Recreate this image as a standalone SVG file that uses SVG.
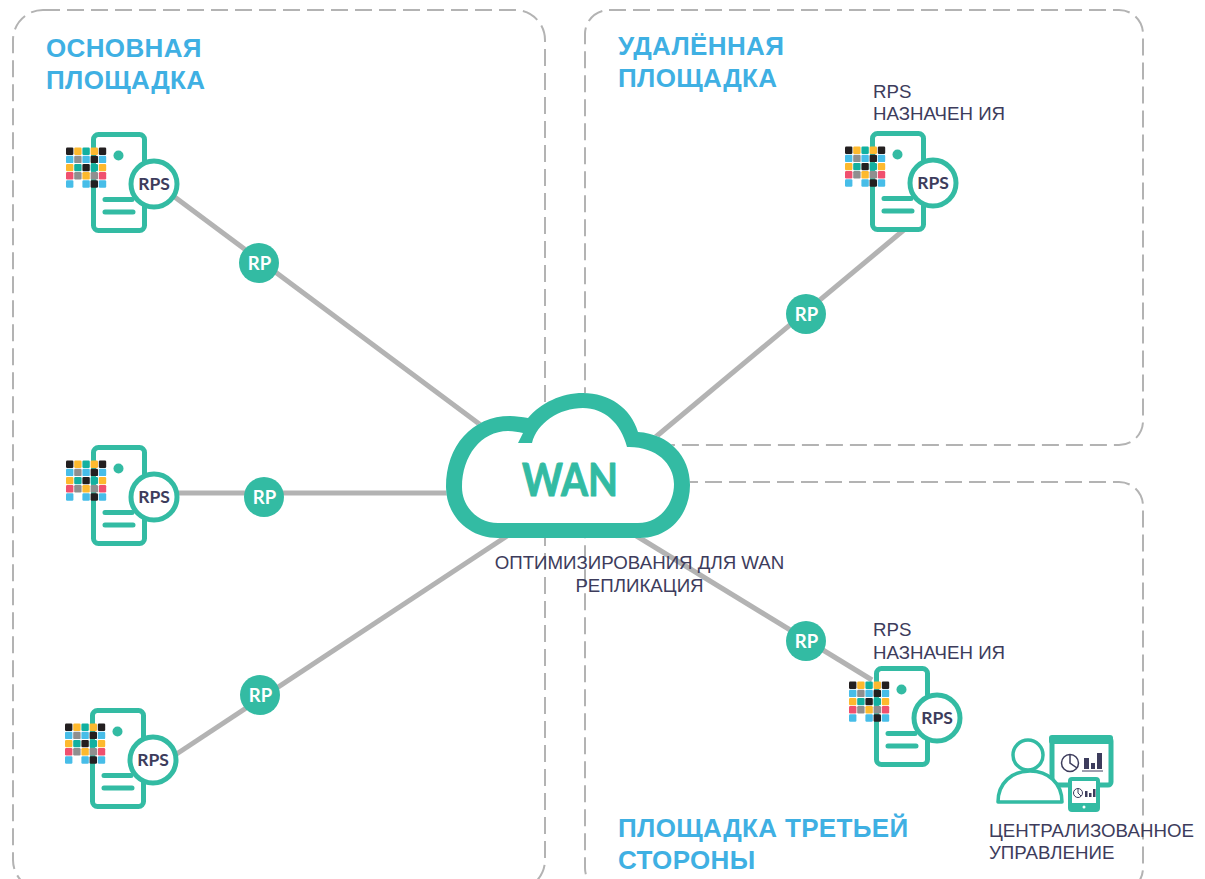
<svg xmlns="http://www.w3.org/2000/svg" xmlns:xlink="http://www.w3.org/1999/xlink" width="1205" height="879" viewBox="0 0 1205 879">
<style>
text{font-family:"Liberation Sans",Arial,sans-serif}
.panel{fill:none;stroke:#b3b3b3;stroke-width:2;stroke-dasharray:17 7}
.link{stroke:#b3b3b3;stroke-width:5;fill:none}
.rp{fill:#33bba3}
.rpt{fill:#fff;font:700 18.500px Lato,"Liberation Sans",sans-serif;text-anchor:middle}
.h{fill:#3fb0e3;font-size:26px;font-weight:700;letter-spacing:.35px}
.t{fill:#3d3c5c;font-size:18.700px}
.tl{fill:none;stroke:#33bba3;stroke-width:5;stroke-linecap:round}
.k{fill:#231f20}.y{fill:#fdb92e}.g{fill:#12b0a0}.b{fill:#47bde8}.a{fill:#8f8f8f}.r{fill:#f0506e}
.rps{fill:#3d3c5c;font:700 17.500px Lato,"Liberation Sans",sans-serif;text-anchor:middle}
.ic{fill:none;stroke:#3d3c5c}
</style>
<defs>
<rect id="c" width="7.400" height="7.400" rx="1.200"/>
<g id="srv">
<rect class="tl" x="93.500" y="134.500" width="51" height="96" rx="5" style="fill:#fff"/>
<circle cx="118.500" cy="155.500" r="5" fill="#33bba3"/>
<path class="tl" d="M105 199.500H132M105 212H133"/>
<g>
<use href="#c" class="k" x="66" y="147.500"/><use href="#c" class="y" x="74.200" y="147.500"/><use href="#c" class="g" x="82.400" y="147.500"/><use href="#c" class="y" x="90.600" y="147.500"/><use href="#c" class="k" x="98.800" y="147.500"/>
<use href="#c" class="b" x="66" y="155.700"/><use href="#c" class="a" x="74.200" y="155.700"/><use href="#c" class="b" x="82.400" y="155.700"/><use href="#c" class="k" x="90.600" y="155.700"/><use href="#c" class="b" x="98.800" y="155.700"/>
<use href="#c" class="y" x="66" y="163.900"/><use href="#c" class="g" x="74.200" y="163.900"/><use href="#c" class="k" x="82.400" y="163.900"/><use href="#c" class="g" x="90.600" y="163.900"/><use href="#c" class="y" x="98.800" y="163.900"/>
<use href="#c" class="r" x="66" y="172.100"/><use href="#c" class="a" x="74.200" y="172.100"/><use href="#c" class="y" x="82.400" y="172.100"/><use href="#c" class="a" x="90.600" y="172.100"/><use href="#c" class="r" x="98.800" y="172.100"/>
<use href="#c" class="b" x="66" y="180.300"/><use href="#c" class="b" x="82.400" y="180.300"/><use href="#c" class="k" x="90.600" y="180.300"/><use href="#c" class="b" x="98.800" y="180.300"/>
</g>
<circle cx="154" cy="184" r="23" fill="#fff" stroke="#33bba3" stroke-width="5"/>
<text class="rps" x="154" y="190">RPS</text>
</g>
</defs>
<rect width="1205" height="879" fill="#fff"/>
<g id="panels">
<rect class="panel" x="13" y="10" width="532" height="880" rx="30"/>
<rect class="panel" x="585" y="10" width="558" height="435" rx="24"/>
<rect class="panel" x="585" y="482" width="558" height="410" rx="24"/>
</g>
<g id="connectors">
<path class="link" d="M172 195L482 426"/>
<path class="link" d="M178 493H450"/>
<path class="link" d="M172 757L510 534"/>
<path class="link" d="M905 229L652 440"/>
<path class="link" d="M630 532L872 680"/>
</g>
<g id="rp1"><circle class="rp" cx="259" cy="263" r="20"/><text class="rpt" x="259.500" y="269.500">RP</text></g>
<g id="rp2"><circle class="rp" cx="264" cy="497" r="20"/><text class="rpt" x="264.500" y="503.500">RP</text></g>
<g id="rp3"><circle class="rp" cx="260" cy="695" r="20"/><text class="rpt" x="260.500" y="701.500">RP</text></g>
<g id="rp4"><circle class="rp" cx="806" cy="314" r="20"/><text class="rpt" x="806.500" y="320.500">RP</text></g>
<g id="rp5"><circle class="rp" cx="806" cy="641" r="20"/><text class="rpt" x="806.500" y="647.500">RP</text></g>
<g id="server1"><use href="#srv"/></g>
<g id="server2"><use href="#srv" y="313"/></g>
<g id="server3"><use href="#srv" x="-1" y="576"/></g>
<g id="server4"><use href="#srv" x="779" y="-1"/></g>
<g id="server5"><use href="#srv" x="783" y="534"/></g>
<g id="wan">
<path fill="#fff" d="M446 487C446 446 472 416 510 416C516 416 522 417 528 418C541 403 561 393 583 393C609 393 631 408 638 432C669 434 690 456 690 485C690 515 669 538 640 538H498C468 538 446 515 446 487Z"/>
<path fill="#33bba3" fill-rule="evenodd" d="M446 487C446 446 472 416 510 416C516 416 522 417 528 418C541 403 561 393 583 393C609 393 631 408 638 432C669 434 690 456 690 485C690 515 669 538 640 538H498C468 538 446 515 446 487ZM462 487C462 507 478 523 498 523H638C659 523 674 505 674 484C674 463 655 446 627 447C621 423 604 408 583 408C559 408 537 423 532 443L518 443L523 433C518 432 514 431 508 431C481 431 462 456 462 487Z"/>
<text x="570" y="496" fill="#33bba3" stroke="#33bba3" stroke-width="1" stroke-linejoin="round" font-size="46" font-weight="700" text-anchor="middle" textLength="96" lengthAdjust="spacingAndGlyphs" style="font-family:Lato,'Liberation Sans',sans-serif">WAN</text>
</g>
<g id="labels">
<text class="h" x="46" y="57">ОСНОВНАЯ</text><text class="h" x="46" y="89">ПЛОЩАДКА</text>
<text class="h" x="618" y="55">УДАЛЁННАЯ</text><text class="h" x="618" y="87">ПЛОЩАДКА</text>
<text class="h" x="618" y="837">ПЛОЩАДКА ТРЕТЬЕЙ</text><text class="h" x="618" y="869">СТОРОНЫ</text>
<text class="t" x="873" y="98">RPS</text><text class="t" x="873" y="120">НАЗНАЧЕН ИЯ</text>
<text class="t" x="873" y="636">RPS</text><text class="t" x="873" y="659">НАЗНАЧЕН ИЯ</text>
<text class="t" x="639.500" y="569" text-anchor="middle">ОПТИМИЗИРОВАНИЯ ДЛЯ WAN</text><text class="t" x="639.500" y="592" text-anchor="middle">РЕПЛИКАЦИЯ</text>
<text class="t" x="989" y="837">ЦЕНТРАЛИЗОВАННОЕ</text><text class="t" x="989" y="859">УПРАВЛЕНИЕ</text>
</g>
<g id="management">
<rect x="1052" y="738" width="59" height="47" rx="3" fill="#fff" stroke="#33bba3" stroke-width="5"/>
<rect x="1049" y="735" width="64" height="9" rx="3" fill="#33bba3"/>
<circle class="ic" cx="1070" cy="763" r="8.500" stroke-width="1.500"/>
<path class="ic" d="M1070 754.500V763L1077 768" stroke-width="1.500"/>
<path fill="#3d3c5c" d="M1084 758h5v11h-5zM1091 763h4v6h-4zM1097 753h5v16h-5z"/>
<path class="ic" d="M1082 771H1103" stroke-width="1"/>
<path d="M998 802C998 783 1012 771 1030 771C1048 771 1062 783 1062 802Z" fill="#fff" stroke="#33bba3" stroke-width="3.500" stroke-linejoin="round"/>
<circle cx="1028" cy="755" r="15" fill="#fff" stroke="#33bba3" stroke-width="3.500"/>
<rect x="1070" y="779" width="28" height="31" rx="2" fill="#fff" stroke="#33bba3" stroke-width="4"/>
<rect x="1070" y="803" width="28" height="8" fill="#33bba3"/>
<circle cx="1084" cy="807" r="1.500" fill="#fff"/>
<circle class="ic" cx="1078" cy="793" r="4.500" stroke-width="1"/>
<path class="ic" d="M1078 788.500V793L1081 796" stroke-width="1"/>
<path fill="#3d3c5c" d="M1085 791h2.500v6h-2.500zM1089 793h2.500v4h-2.500zM1093 789h2.500v8h-2.500z"/>
</g>
</svg>
